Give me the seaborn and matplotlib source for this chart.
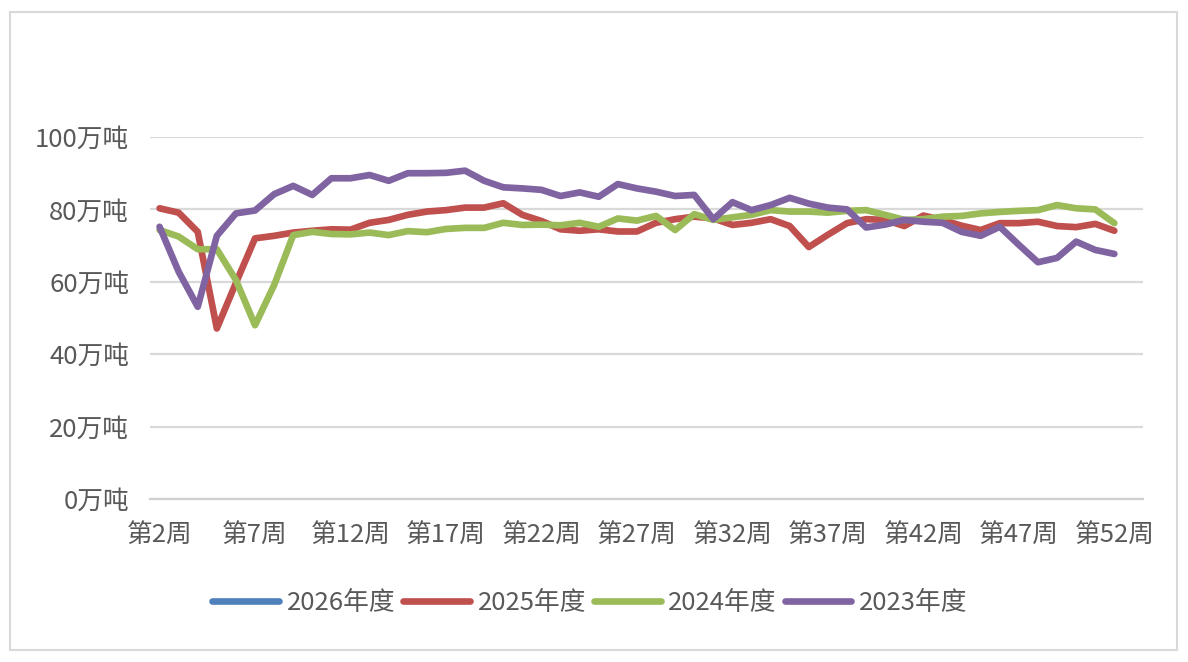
import numpy as np
import pandas as pd
import matplotlib
matplotlib.use("Agg")
import matplotlib.pyplot as plt
from matplotlib.lines import Line2D
from matplotlib.patches import Rectangle
import seaborn as sns

# weeks on the axis: 第2周 .. 第53周 (data up to 第52周)
weeks = list(range(2, 54))
week_labels = ["第%d周" % w for w in weeks]

# values in 万吨, weeks 2..52
y2025 = [80.3, 79.1, 73.8, 47.1, 59.7, 72.0, 72.7, 73.6, 74.1, 74.5,
         74.4, 76.3, 77.1, 78.5, 79.4, 79.8, 80.5, 80.5, 81.7, 78.5,
         76.8, 74.5, 74.1, 74.5, 73.9, 73.9, 76.3, 77.3, 78.0, 77.5,
         75.7, 76.3, 77.3, 75.4, 69.6, 73.0, 76.2, 77.3, 77.1, 75.4,
         78.3, 77.1, 75.5, 74.3, 76.2, 76.2, 76.6, 75.4, 75.1, 76.0,
         74.1]
y2024 = [74.3, 72.5, 69.0, 69.0, 60.5, 48.0, 59.1, 72.9, 73.8, 73.2,
         73.1, 73.6, 72.9, 74.0, 73.7, 74.6, 74.9, 74.9, 76.3, 75.7,
         75.8, 75.6, 76.3, 75.2, 77.5, 76.9, 78.2, 74.3, 78.7, 77.1,
         77.8, 78.5, 79.8, 79.4, 79.4, 79.1, 79.6, 79.8, 78.5, 77.1,
         77.3, 78.0, 78.2, 78.9, 79.3, 79.6, 79.8, 81.2, 80.3, 80.0,
         76.2]
y2023 = [75.2, 62.8, 53.1, 72.7, 78.9, 79.7, 84.2, 86.5, 84.0, 88.6,
         88.6, 89.5, 87.9, 90.0, 90.0, 90.1, 90.7, 87.9, 86.1, 85.8,
         85.4, 83.7, 84.7, 83.5, 87.0, 85.8, 84.9, 83.7, 84.0, 77.3,
         82.0, 79.8, 81.2, 83.2, 81.6, 80.5, 80.0, 75.0, 75.8, 77.1,
         76.6, 76.3, 73.8, 72.7, 75.2, 70.2, 65.4, 66.6, 71.1, 68.8,
         67.7]
y2026 = []

series_names = ["2026年度", "2025年度", "2024年度", "2023年度"]
colors = ["#4F81BD", "#C0504D", "#9BBB59", "#8064A2"]
y_ticks = [0, 20, 40, 60, 80, 100]

rows = []
for name, vals in [("2025年度", y2025), ("2024年度", y2024), ("2023年度", y2023)]:
    for i, v in enumerate(vals):
        rows.append({"pos": i, "week": week_labels[i], "value": v, "series": name})
df = pd.DataFrame(rows)

sns.set_theme(style="white")
plt.rcParams["font.family"] = ["Noto Sans CJK SC", "DejaVu Sans"]

fig = plt.figure(figsize=(11.88, 6.62), dpi=100)
ax = fig.add_axes([150 / 1188, 1 - 499 / 662, 993 / 1188, 362 / 662])

for name, col in zip(series_names[1:], colors[1:]):
    sns.lineplot(data=df[df["series"] == name], x="pos", y="value", ax=ax,
                 color=col, linewidth=4.8, legend=False,
                 solid_joinstyle="round", solid_capstyle="round")

ax.set_xlim(-0.5, len(weeks) - 0.5)
ax.set_ylim(0, 100)
ax.set_xlabel("")
ax.set_ylabel("")

ax.set_yticks(y_ticks)
ax.set_yticklabels(["%d万吨" % v for v in y_ticks])
ax.yaxis.grid(True, color="#D9D9D9", linewidth=1.6)
ax.set_axisbelow(True)

ax.set_xticks(range(0, len(weeks), 5))
ax.set_xticklabels(week_labels[::5])
ax.set_xticks(np.arange(-0.5, len(weeks), 1), minor=True)
ax.tick_params(axis="x", which="major", length=0, pad=17, labelsize=18.5, colors="#595959")
ax.tick_params(axis="x", which="minor", length=8, width=1.3, color="#D0D0D0", direction="out")
ax.tick_params(axis="y", length=0, pad=15, labelsize=18.5, colors="#595959")

for s in ["top", "right", "left"]:
    ax.spines[s].set_visible(False)
ax.spines["bottom"].set_color("#D0D0D0")
ax.spines["bottom"].set_linewidth(1.6)

handles = [Line2D([], [], color=c, linewidth=4.8, solid_capstyle="round") for c in colors]
fig.legend(handles, series_names, loc="center", bbox_to_anchor=(590 / 1188, 1 - 603 / 662),
           ncol=4, frameon=False, fontsize=18.5, handlelength=2.6, handletextpad=0.3,
           columnspacing=0.3, labelcolor="#595959")

fig.patches.append(Rectangle((10 / 1188, 12 / 662), 1167 / 1188, 638 / 662,
                             transform=fig.transFigure, fill=False,
                             edgecolor="#D9D9D9", linewidth=1.5))

fig.savefig("out.png", dpi=100)
